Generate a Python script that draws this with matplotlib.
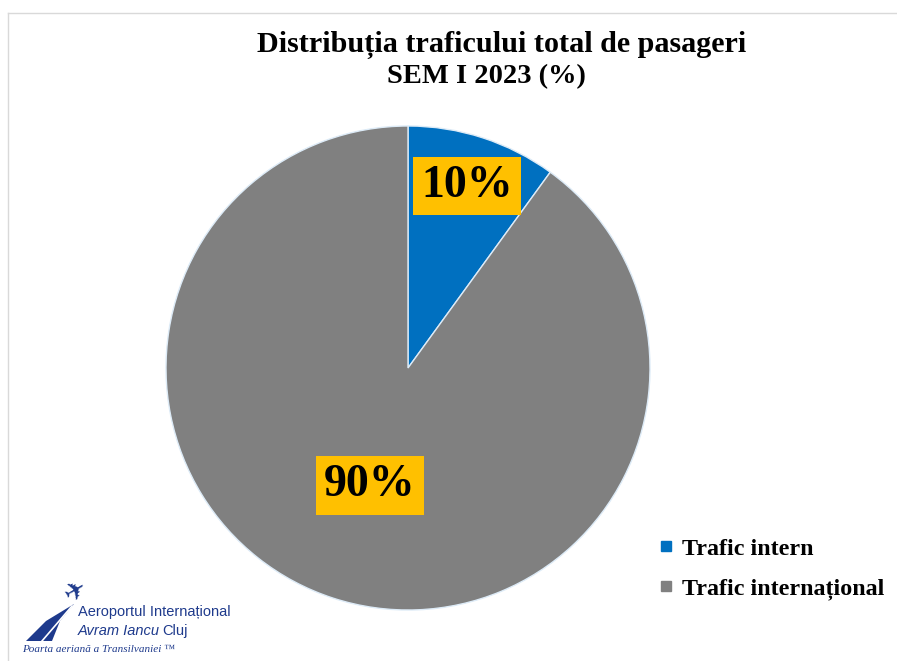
import numpy as np
import matplotlib.pyplot as plt
from matplotlib.patches import Polygon
from matplotlib.lines import Line2D

categories = ["Trafic intern", "Trafic internațional"]
shares = [10, 90]
labels = ["10%", "90%"]
colors = ["#0070C0", "#808080"]
label_radius = [0.79, 0.51]

W, H = 897, 661
fig = plt.figure(figsize=(W / 100, H / 100), dpi=100)
fig.patch.set_facecolor("white")

# pie axes: centre (408, 368) px, radius 242 px
cx, cy, r = 408, 368, 242
ax = fig.add_axes([(cx - r) / W, (H - cy - r) / H, 2 * r / W, 2 * r / H])
wedges, _ = ax.pie(shares, colors=colors, startangle=90, counterclock=False,
                   wedgeprops=dict(edgecolor="#DDEBF7", linewidth=1.0))
ax.set_xlim(-1, 1)
ax.set_ylim(-1, 1)
ax.set_aspect("equal")
ax.axis("off")

for w, lab, rr in zip(wedges, labels, label_radius):
    mid = np.deg2rad((w.theta1 + w.theta2) / 2)
    ax.text(rr * np.cos(mid), rr * np.sin(mid), lab, ha="center", va="center",
            fontsize=33, fontweight="bold", family="Liberation Serif",
            bbox=dict(boxstyle="square,pad=0.18", fc="#FFC000", ec="none"))

# title
fig.text(502 / W, 1 - 45 / H, "Distribuția traficului total de pasageri",
         ha="center", va="center", fontsize=21.7, fontweight="bold",
         family="Liberation Serif")
fig.text(486 / W, 1 - 77 / H, "SEM I 2023 (%)", ha="center", va="center",
         fontsize=20.5, fontweight="bold", family="Liberation Serif")

# legend
handles = [Line2D([], [], marker="s", linestyle="none", markersize=7.5,
                  markerfacecolor=c, markeredgecolor=c) for c in colors]
fig.legend(handles, categories, loc="upper left",
           bbox_to_anchor=(646 / W, 1 - 526 / H), frameon=False,
           prop=dict(family="Liberation Serif", weight="bold", size=17.3),
           handletextpad=0.3, labelspacing=0.74, borderpad=0, handlelength=0.7)

# thin frame lines
fig.add_artist(Line2D([8 / W, 1], [1 - 13 / H, 1 - 13 / H], color="#D9D9D9", lw=1))
fig.add_artist(Line2D([8 / W, 8 / W], [0, 1 - 13 / H], color="#D9D9D9", lw=1))

# airport logo
logo_blue = "#1E3A8C"
swoosh = [(26, 641), (46, 621), (74, 604), (60, 621), (52, 641)]
fig.add_artist(Polygon([(x / W, 1 - y / H) for x, y in swoosh], closed=True,
                       fc=logo_blue, ec="none", transform=fig.transFigure))
fig.add_artist(Line2D([42 / W, 72 / W], [1 - 641 / H, 1 - 606 / H],
                      color="white", lw=1.2))
fig.text(76 / W, 1 - 591 / H, "✈", ha="center", va="center", fontsize=19,
         rotation=30, color=logo_blue, family="DejaVu Sans")
fig.text(78 / W, 1 - 612 / H, "Aeroportul Internațional", ha="left", va="center",
         fontsize=10.5, color=logo_blue, family="Liberation Sans")
fig.text(78 / W, 1 - 631 / H, "Avram Iancu", ha="left", va="center",
         fontsize=10.5, color=logo_blue, family="Liberation Sans", style="italic")
fig.text(162 / W, 1 - 631 / H, "Cluj", ha="left", va="center",
         fontsize=10.5, color=logo_blue, family="Liberation Sans")
fig.text(22 / W, 1 - 650 / H, "Poarta aeriană a Transilvaniei ™", ha="left",
         va="center", fontsize=8, color=logo_blue, family="Liberation Serif",
         style="italic")

fig.savefig("out.png", dpi=100)
